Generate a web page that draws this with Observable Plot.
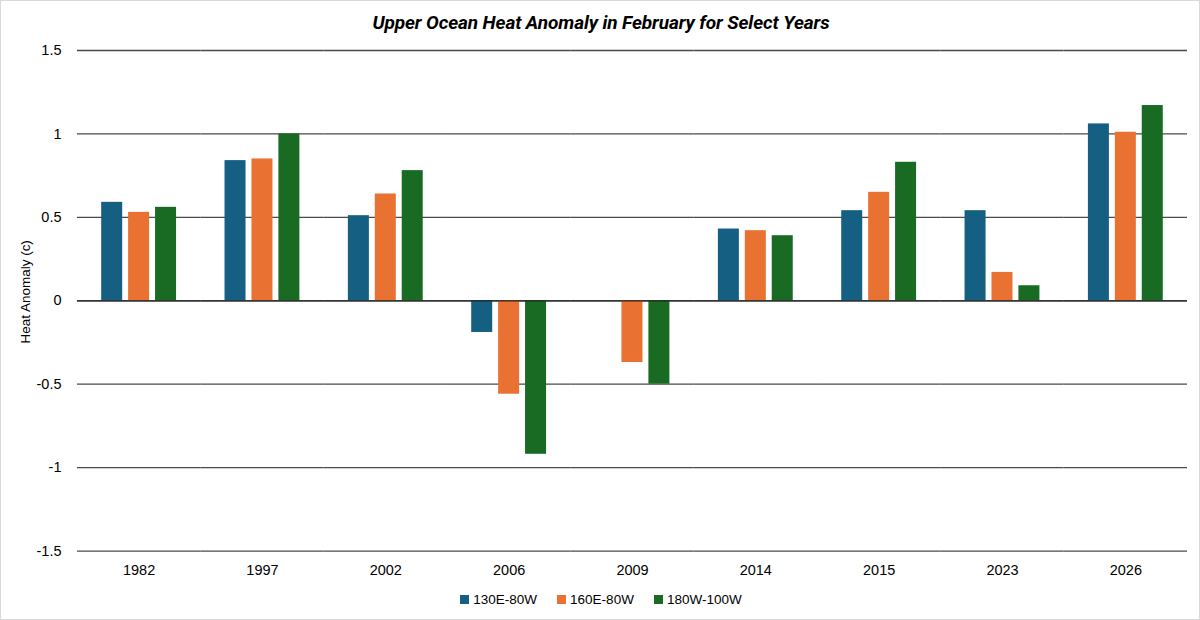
<!DOCTYPE html>
<html>
<head>
<meta charset="utf-8">
<script src="https://cdn.jsdelivr.net/npm/d3@7"></script>
<script src="https://cdn.jsdelivr.net/npm/@observablehq/plot@0.6"></script>
<style>
  html, body { margin: 0; padding: 0; background: #fff; }
  #frame { position: relative; width: 1198px; height: 618px; border: 1px solid #d9d9d9; overflow: hidden; font-family: "Liberation Sans", Arial, sans-serif; }
  #title { position: absolute; left: 0; top: 10px; width: 1200px; text-align: center; font-family: Roboto, "Liberation Sans", sans-serif; font-weight: bold; font-style: italic; font-size: 19px; color: #000; letter-spacing: -0.1px; }
  #chart { position: absolute; left: -1px; top: 35px; }
  #legend { position: absolute; left: 0; top: 591px; width: 1200px; display: flex; justify-content: center; gap: 20px; font-size: 13.5px; color: #000; }
  .item { display: flex; align-items: center; gap: 4px; }
  .sw { width: 9px; height: 9px; display: inline-block; }
</style>
</head>
<body>
<div id="frame">
  <div id="title">Upper Ocean Heat Anomaly in February for Select Years</div>
  <div id="chart"></div>
  <div id="legend"></div>
</div>
<script>
const years = ["1982", "1997", "2002", "2006", "2009", "2014", "2015", "2023", "2026"];
const seriesNames = ["130E-80W", "160E-80W", "180W-100W"];
const seriesColors = ["#156082", "#E97132", "#196B24"];
const s130E80W = [0.59, 0.84, 0.51, -0.19, null, 0.43, 0.54, 0.54, 1.06];
const s160E80W = [0.53, 0.85, 0.64, -0.56, -0.37, 0.42, 0.65, 0.17, 1.01];
const s180W100W = [0.56, 1.00, 0.78, -0.92, -0.50, 0.39, 0.83, 0.09, 1.17];
const yTicks = [-1.5, -1, -0.5, 0, 0.5, 1, 1.5];

const allSeries = [s130E80W, s160E80W, s180W100W];
const data = [];
years.forEach((yr, i) => {
  seriesNames.forEach((s, j) => {
    const v = allSeries[j][i];
    if (v !== null) data.push({year: yr, series: s, value: v});
  });
});

const chart = Plot.plot({
  width: 1200,
  height: 551,
  marginLeft: 77,
  marginRight: 12,
  marginTop: 14,
  marginBottom: 36,
  style: {fontFamily: "'Liberation Sans', Arial, sans-serif", fontSize: "14.5px", color: "#000", background: "transparent"},
  fx: {domain: years, padding: 0, round: false, label: null, axis: "bottom", tickSize: 0, tickPadding: 14},
  x: {domain: seriesNames, axis: null, round: false, paddingInner: 0.22, paddingOuter: 0.9},
  y: {domain: [-1.5, 1.5], ticks: yTicks, label: null, tickSize: 0, tickPadding: 16, tickFormat: d => String(d)},
  color: {domain: seriesNames, range: seriesColors},
  marks: [
    Plot.ruleY(yTicks, {stroke: "#4a4a4a", strokeWidth: 1.3, facetAnchor: null}),
    Plot.barY(data, {fx: "year", x: "series", y: "value", fill: "series"}),
    Plot.ruleY([0], {stroke: "#222", strokeWidth: 1.3})
  ]
});
document.getElementById("chart").appendChild(chart);

// y-axis title
const svg = d3.select(chart);
svg.append("text")
  .attr("transform", "translate(30,256) rotate(-90)")
  .attr("text-anchor", "middle")
  .style("font-size", "13.5px")
  .style("fill", "#000")
  .text("Heat Anomaly (c)");

// legend
const legend = document.getElementById("legend");
seriesNames.forEach((s, i) => {
  const it = document.createElement("div");
  it.className = "item";
  const sw = document.createElement("span");
  sw.className = "sw";
  sw.style.background = seriesColors[i];
  const tx = document.createElement("span");
  tx.textContent = s;
  it.appendChild(sw); it.appendChild(tx);
  legend.appendChild(it);
});
</script>
</body>
</html>
